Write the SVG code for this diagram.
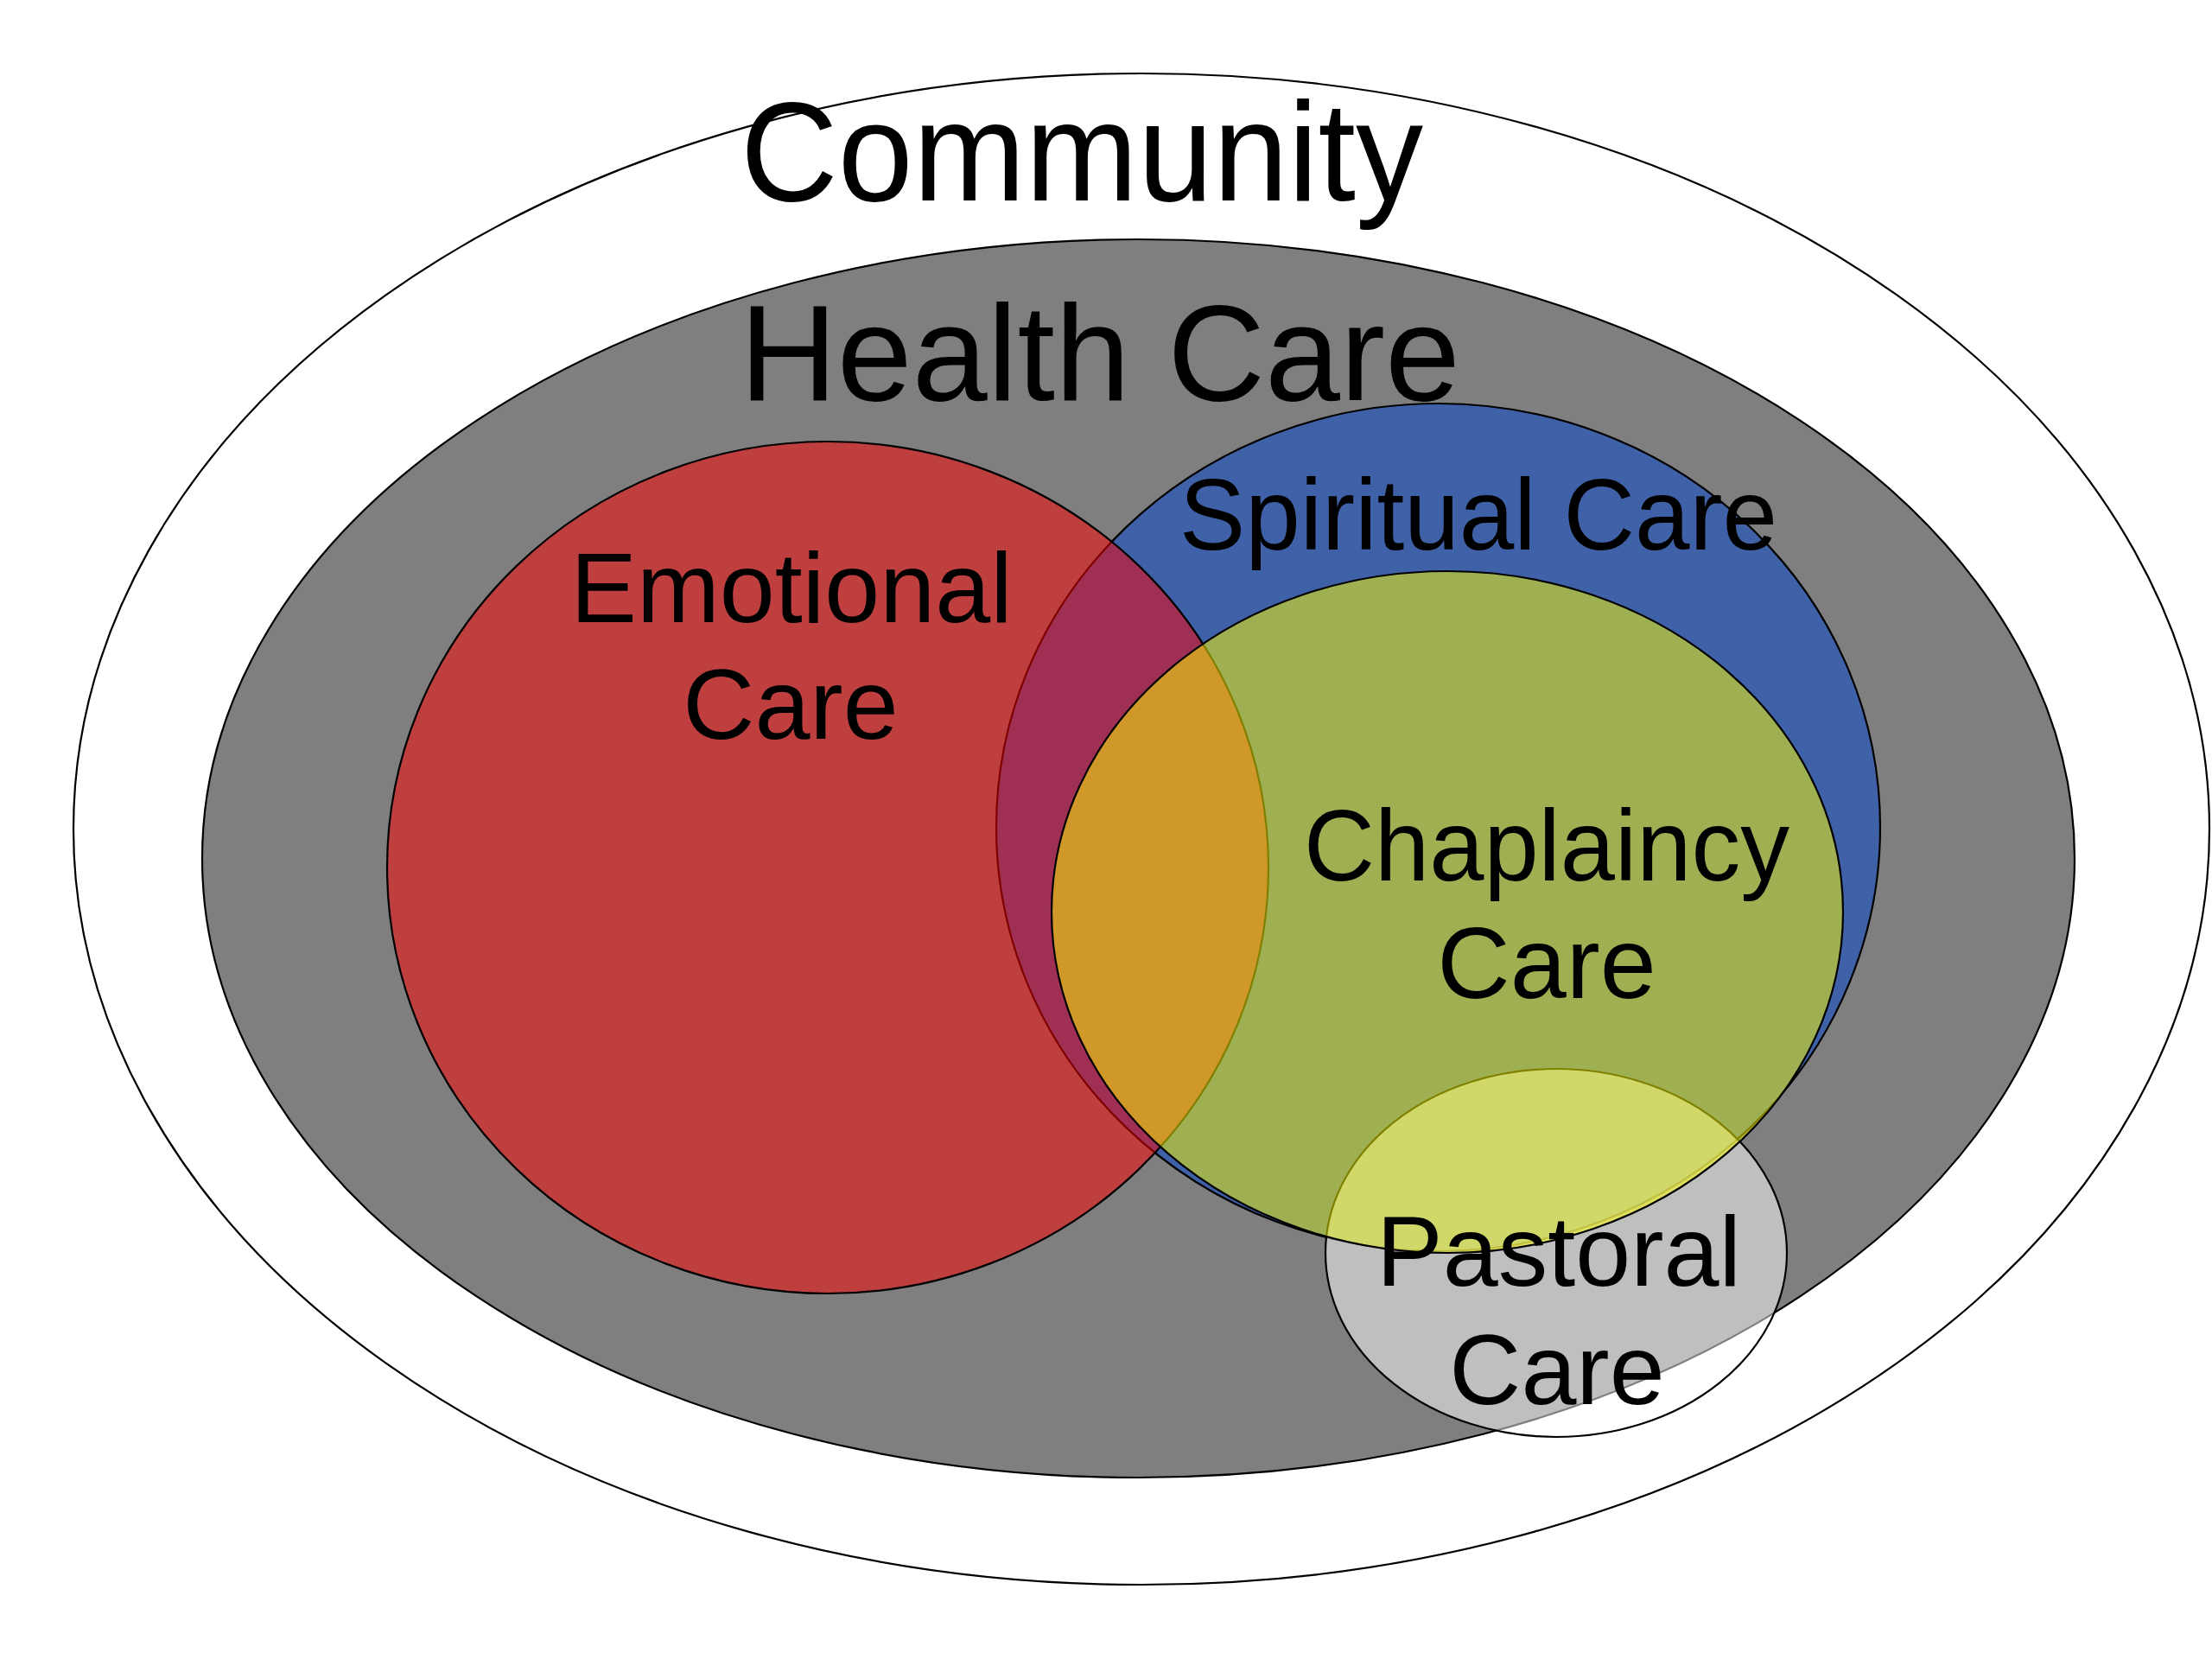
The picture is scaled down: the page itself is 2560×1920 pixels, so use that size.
<svg xmlns="http://www.w3.org/2000/svg" width="2560" height="1920" viewBox="0 0 2560 1920">
<style>
.ring{stroke:#000;stroke-width:2.2}
.lbl{font-family:"Liberation Sans",Arial,Helvetica,sans-serif;fill:#000;text-anchor:middle}
</style>
<rect width="2560" height="1920" fill="#fff"/>
<g id="community"><ellipse cx="1321" cy="959.5" rx="1236" ry="874.5" fill="#fff" class="ring"/></g>
<g id="health-care"><ellipse cx="1317.5" cy="993.5" rx="1083.5" ry="716.5" fill="#7f7f7f" class="ring"/></g>
<g id="spiritual-care"><ellipse cx="1664.5" cy="957.5" rx="511.5" ry="490.5" fill="#3f61a7" class="ring"/></g>
<g id="emotional-care"><ellipse cx="958" cy="1004" rx="510" ry="493" fill="#ff0000" fill-opacity="0.5" class="ring"/></g>
<g id="pastoral-care"><ellipse cx="1801" cy="1450" rx="267" ry="213" fill="#fff" fill-opacity="0.5" class="ring"/></g>
<g id="chaplaincy-care"><ellipse cx="1675" cy="1055.5" rx="458" ry="394.5" fill="#ffff00" fill-opacity="0.5" class="ring"/></g>
<g id="labels">
<text id="label-community" class="lbl" x="1252" y="232" font-size="164" textLength="790" lengthAdjust="spacingAndGlyphs">Community</text>
<text id="label-health-care" class="lbl" x="1273" y="463" font-size="158" textLength="834" lengthAdjust="spacingAndGlyphs">Health Care</text>
<text id="label-spiritual-care" class="lbl" x="1711" y="636" font-size="117" textLength="692" lengthAdjust="spacingAndGlyphs">Spiritual Care</text>
<text id="label-emotional-care" class="lbl" font-size="115"><tspan x="916" y="720">Emotional</tspan><tspan x="915" y="855">Care</tspan></text>
<text id="label-chaplaincy-care" class="lbl" font-size="117"><tspan x="1790" y="1019" textLength="562" lengthAdjust="spacingAndGlyphs">Chaplaincy</tspan><tspan x="1790" y="1155">Care</tspan></text>
<text id="label-pastoral-care" class="lbl" font-size="115"><tspan x="1804" y="1488">Pastoral</tspan><tspan x="1802" y="1625">Care</tspan></text>
</g>
</svg>
